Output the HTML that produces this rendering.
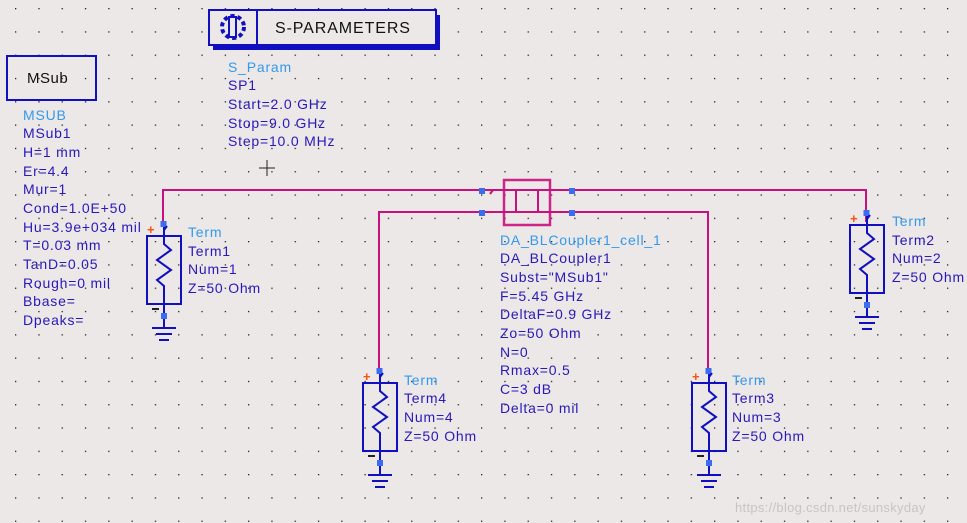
<!DOCTYPE html>
<html><head><meta charset="utf-8"><style>
html,body{margin:0;padding:0;background:#ece8e7;}
svg{display:block}
text{font-family:"Liberation Sans",sans-serif;font-size:14px;letter-spacing:0.8px;}
.n{fill:#3399ee}.v{fill:#2a18b8}
</style></head><body>
<svg width="967" height="523" viewBox="0 0 967 523" xmlns="http://www.w3.org/2000/svg">
<defs>
<pattern id="g" x="15" y="8" width="23.3" height="23.3" patternUnits="userSpaceOnUse"><rect x="0" y="0" width="1.3" height="1.3" fill="#222"/></pattern>
<g id="term">
<rect x="-2.5" y="-15" width="6" height="6" fill="#3a6cf0"/>
<text x="-16" y="-2" fill="#ff5010" style="font-size:13px;font-weight:bold">+</text>
<path d="M1 -6 l3 -4" stroke="#1010c0" stroke-width="2"/>
<rect x="-16" y="0" width="34" height="68" fill="none" stroke="#1010c0" stroke-width="2"/>
<path d="M1 -9 V8 l7 6 l-14 10 l14 10 l-14 10 l7 6 V92" fill="none" stroke="#1010c0" stroke-width="2"/>
<rect x="-2" y="77" width="6" height="6" fill="#3a6cf0"/>
<path d="M-11 73 h7" stroke="#222" stroke-width="2"/>
<path d="M-11 92 h24 M-7 98 h16 M-4 104 h10" stroke="#1010c0" stroke-width="2"/>
</g>
</defs>
<rect width="967" height="523" fill="url(#g)"/>
<path d="M267 160 V176 M259 168 H275" stroke="#222" stroke-width="1"/>
<!-- MSub -->
<rect x="7" y="56" width="89" height="44" fill="none" stroke="#1010c0" stroke-width="2"/>
<text x="27" y="83" fill="#111" style="font-size:15px;letter-spacing:0.5px">MSub</text>
<g>
<text x="23" y="120" class="n">MSUB</text>
<text x="23" y="138" class="v">MSub1</text>
<text x="23" y="157" class="v">H=1 mm</text>
<text x="23" y="176" class="v">Er=4.4</text>
<text x="23" y="194" class="v">Mur=1</text>
<text x="23" y="213" class="v">Cond=1.0E+50</text>
<text x="23" y="232" class="v">Hu=3.9e+034 mil</text>
<text x="23" y="250" class="v">T=0.03 mm</text>
<text x="23" y="269" class="v">TanD=0.05</text>
<text x="23" y="288" class="v">Rough=0 mil</text>
<text x="23" y="306" class="v">Bbase=</text>
<text x="23" y="325" class="v">Dpeaks=</text>
</g>
<!-- S-params -->
<rect x="213" y="15" width="227" height="35" fill="#1010c0"/>
<rect x="209" y="10" width="227" height="35" fill="#ece8e7" stroke="#1010c0" stroke-width="2"/>
<line x1="257" y1="10" x2="257" y2="45" stroke="#1010c0" stroke-width="2"/>
<circle cx="233" cy="27" r="11" fill="none" stroke="#1010c0" stroke-width="4" stroke-dasharray="4 3"/>
<rect x="229" y="17" width="7" height="20" fill="#ece8e7" stroke="#1010c0" stroke-width="2"/>
<text x="275" y="33" fill="#111" style="font-size:16px;letter-spacing:0.9px">S-PARAMETERS</text>
<text x="228" y="72" class="n">S_Param</text>
<text x="228" y="90" class="v">SP1</text>
<text x="228" y="109" class="v">Start=2.0 GHz</text>
<text x="228" y="128" class="v">Stop=9.0 GHz</text>
<text x="228" y="146" class="v">Step=10.0 MHz</text>
<!-- wires -->
<g stroke="#c8107f" stroke-width="2" fill="none">
<path d="M163 222 V190 H866 V222"/>
<path d="M379 369 V212 H708 V369"/>
<path d="M490 194 l3 -4"/>
</g>
<!-- coupler -->
<rect x="504" y="180" width="46" height="45" fill="none" stroke="#c8107f" stroke-width="2.5" opacity="0.9"/>
<path d="M516 190 V213 M538 190 V213" stroke="#c8107f" stroke-width="2"/>
<rect x="479" y="188" width="6" height="6" fill="#3a6cf0"/>
<rect x="479" y="210" width="6" height="6" fill="#3a6cf0"/>
<rect x="569" y="188" width="6" height="6" fill="#3a6cf0"/>
<rect x="569" y="210" width="6" height="6" fill="#3a6cf0"/>
<text x="500" y="245" class="n">DA_BLCoupler1_cell_1</text>
<text x="500" y="263" class="v">DA_BLCoupler1</text>
<text x="500" y="282" class="v">Subst="MSub1"</text>
<text x="500" y="301" class="v">F=5.45 GHz</text>
<text x="500" y="319" class="v">DeltaF=0.9 GHz</text>
<text x="500" y="338" class="v">Zo=50 Ohm</text>
<text x="500" y="357" class="v">N=0</text>
<text x="500" y="375" class="v">Rmax=0.5</text>
<text x="500" y="394" class="v">C=3 dB</text>
<text x="500" y="413" class="v">Delta=0 mil</text>
<!-- terms -->
<use href="#term" transform="translate(163,236)"/>
<use href="#term" transform="translate(866,225)"/>
<use href="#term" transform="translate(379,383)"/>
<use href="#term" transform="translate(708,383)"/>
<text x="188" y="237" class="n">Term</text><text x="188" y="256" class="v">Term1</text><text x="188" y="274" class="v">Num=1</text><text x="188" y="293" class="v">Z=50 Ohm</text>
<text x="892" y="226" class="n">Term</text><text x="892" y="245" class="v">Term2</text><text x="892" y="263" class="v">Num=2</text><text x="892" y="282" class="v">Z=50 Ohm</text>
<text x="404" y="385" class="n">Term</text><text x="404" y="403" class="v">Term4</text><text x="404" y="422" class="v">Num=4</text><text x="404" y="441" class="v">Z=50 Ohm</text>
<text x="732" y="385" class="n">Term</text><text x="732" y="403" class="v">Term3</text><text x="732" y="422" class="v">Num=3</text><text x="732" y="441" class="v">Z=50 Ohm</text>
<text x="735" y="512" fill="#c8c4c4" style="font-size:13px;letter-spacing:0.3px">https://blog.csdn.net/sunskyday</text>
</svg>
</body></html>
